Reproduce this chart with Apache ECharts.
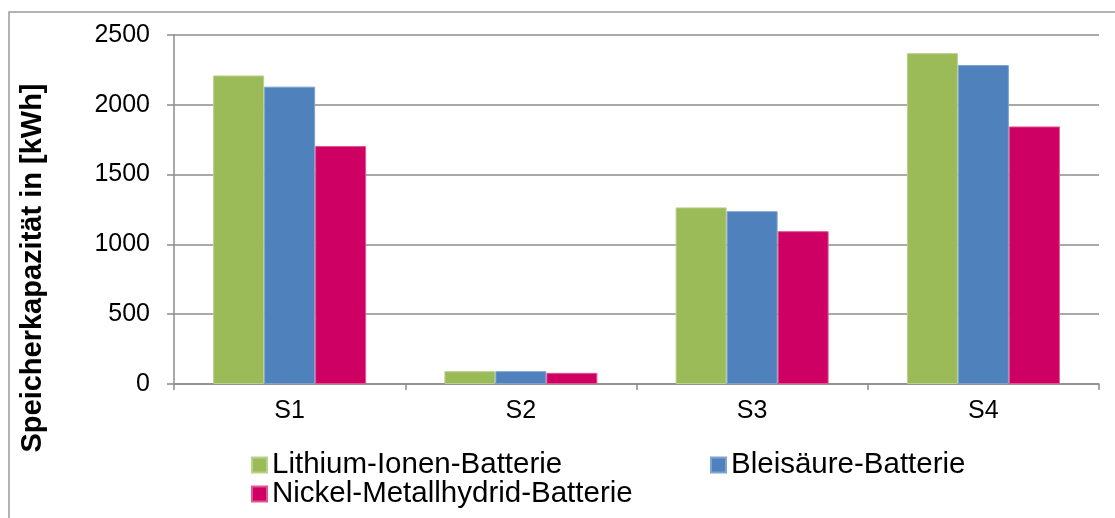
<!DOCTYPE html>
<html>
<head>
<meta charset="utf-8">
<script src="https://cdn.jsdelivr.net/npm/echarts@6/dist/echarts.min.js"></script>
<style>
    html, body { margin: 0; padding: 0; background: #fff; }
    #chart { width: 1115px; height: 518px; }
</style>
</head>
<body>
<div id="chart"></div>
<script>
// Szenarien
var categories = ['S1', 'S2', 'S3', 'S4'];
// Speicherkapazität je Batterietyp [kWh]
var lithium = [2210, 92, 1265, 2370];
var bleisaeure = [2130, 92, 1238, 2285];
var nickel = [1705, 80, 1095, 1845];
var seriesNames = ['Lithium-Ionen-Batterie', 'Bleisäure-Batterie', 'Nickel-Metallhydrid-Batterie'];
var yTicks = { min: 0, max: 2500, interval: 500 };
var yTitle = 'Speicherkapazität in [kWh]';

var font = '"Liberation Sans", Arial, sans-serif';
var grey = '#8c8c8c';

function legendAt(name, left, top) {
    return {
        data: [name],
        left: left,
        top: top,
        padding: 0,
        itemWidth: 15,
        itemHeight: 15,
        icon: 'rect',
        textStyle: { fontSize: 29.5, color: '#000', fontFamily: font }
    };
}

var chart = echarts.init(document.getElementById('chart'));
chart.setOption({
    animation: false,
    backgroundColor: '#fff',
    graphic: [
        {
            type: 'rect',
            shape: { x: 9, y: 12, width: 1200, height: 600 },
            style: { fill: 'none', stroke: '#9a9a9a', lineWidth: 1.5 },
            silent: true
        },
        {
            // Achsentitel, wie im Original unterhalb der Achsenmitte
            type: 'text',
            x: 33,
            y: 268,
            rotation: Math.PI / 2,
            style: {
                text: yTitle,
                fontSize: 29,
                fontWeight: 'bold',
                fontFamily: font,
                fill: '#000',
                align: 'center',
                verticalAlign: 'middle'
            },
            silent: true
        }
    ],
    grid: { left: 174, right: 16, top: 35, bottom: 134 },
    legend: [
        legendAt(seriesNames[0], 251, 450),
        legendAt(seriesNames[1], 710, 450),
        legendAt(seriesNames[2], 251, 479)
    ],
    xAxis: {
        type: 'category',
        data: categories,
        axisLine: { lineStyle: { color: grey, width: 1.5 } },
        axisTick: { show: true, length: 6, lineStyle: { color: grey, width: 1.5 } },
        axisLabel: { margin: 15, fontSize: 25, color: '#000', fontFamily: font }
    },
    yAxis: {
        type: 'value',
        min: yTicks.min,
        max: yTicks.max,
        interval: yTicks.interval,
        axisLine: { show: true, lineStyle: { color: grey, width: 1.5 } },
        axisTick: { show: true, length: 7, lineStyle: { color: grey, width: 1.5 } },
        axisLabel: {
            margin: 24, fontSize: 25, color: '#000', fontFamily: font,
            formatter: function (v) { return String(v); }
        },
        splitLine: { lineStyle: { color: grey, width: 1.5 } }
    },
    series: [
        {
            name: seriesNames[0], type: 'bar', data: lithium,
            barWidth: 51, barGap: '0%',
            itemStyle: { color: '#9bbb59', borderColor: '#b9d18a', borderWidth: 1 }
        },
        {
            name: seriesNames[1], type: 'bar', data: bleisaeure,
            barWidth: 51, barGap: '0%',
            itemStyle: { color: '#4f81bd', borderColor: '#7ea3d0', borderWidth: 1 }
        },
        {
            name: seriesNames[2], type: 'bar', data: nickel,
            barWidth: 51, barGap: '0%',
            itemStyle: { color: '#cf0063', borderColor: '#e0578f', borderWidth: 1 }
        }
    ]
});
</script>
</body>
</html>
